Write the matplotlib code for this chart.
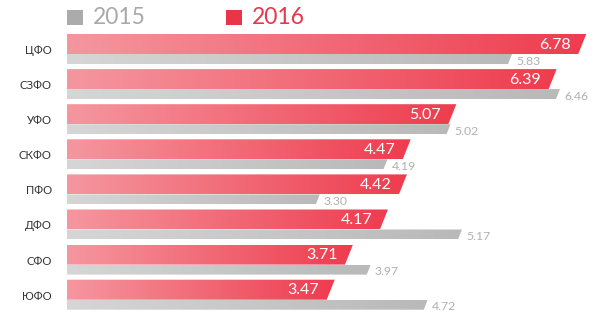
import numpy as np
import matplotlib
matplotlib.use("Agg")
import matplotlib.pyplot as plt
from matplotlib.patches import Polygon, Rectangle
from matplotlib.colors import to_rgb

plt.rcParams['font.family'] = ['Lato', 'DejaVu Sans']

# Federal districts and their values
districts = ["ЦФО", "СЗФО", "УФО", "СКФО", "ПФО", "ДФО", "СФО", "ЮФО"]
values_2016 = [6.78, 6.39, 5.07, 4.47, 4.42, 4.17, 3.71, 3.47]
values_2015 = [5.83, 6.46, 5.02, 4.19, 3.30, 5.17, 3.97, 4.72]
labels_2016 = ["6.78", "6.39", "5.07", "4.47", "4.42", "4.17", "3.71", "3.47"]
labels_2015 = ["5.83", "6.46", "5.02", "4.19", "3.30", "5.17", "3.97", "4.72"]
legend_years = ["2015", "2016"]

W, H, DPI = 600, 321, 100
fig = plt.figure(figsize=(W / DPI, H / DPI), dpi=DPI)
fig.patch.set_facecolor("white")

# axes: value 0 starts at x=67px, 76 px per unit; one row = 35.1 px
x0_px, px_per_unit, row_px, top_px = 67, 76.0, 35.1, 34.0
ax = fig.add_axes([x0_px / W, 0, 1 - x0_px / W, 1])
ax.set_xlim(0, (W - x0_px) / px_per_unit)
ax.set_ylim((H - top_px) / row_px, -top_px / row_px)
ax.axis("off")

red_h = 20 / row_px
gray_h = 10 / row_px
red_slant = 4 / px_per_unit     # half of horizontal offset of the slanted end
gray_slant = 2 / px_per_unit

red_left, red_right = to_rgb("#f5979f"), to_rgb("#ee3c4e")
gray_left, gray_right = to_rgb("#d6d6d6"), to_rgb("#b9b9b9")


def gradient_bar(y_top, y_bot, value, slant, c_left, c_right):
    xr = value + slant
    poly = Polygon([(0, y_top), (value + slant, y_top),
                    (value - slant, y_bot), (0, y_bot)],
                   closed=True, facecolor="none", edgecolor="none")
    ax.add_patch(poly)
    t = np.linspace(0, 1, 256)[None, :, None]
    grad = (1 - t) * np.array(c_left)[None, None, :] + t * np.array(c_right)[None, None, :]
    im = ax.imshow(grad, extent=(0, xr, y_bot, y_top), aspect="auto",
                   interpolation="bilinear", zorder=2)
    im.set_clip_path(poly)


for i, name in enumerate(districts):
    y_red_top = i
    y_red_bot = i + red_h
    y_gray_bot = y_red_bot + gray_h
    gradient_bar(y_red_top, y_red_bot, values_2016[i], red_slant, red_left, red_right)
    gradient_bar(y_red_bot, y_gray_bot, values_2015[i], gray_slant, gray_left, gray_right)

    ax.text(values_2016[i] - 0.15, (y_red_top + y_red_bot) / 2 + 0.02, labels_2016[i],
            ha="right", va="center", color="white", fontsize=11.5, zorder=3)
    ax.text(values_2015[i] + 0.08, (y_red_bot + y_gray_bot) / 2 + 0.06, labels_2015[i],
            ha="left", va="center", color="#b0b0b0", fontsize=8.8, zorder=3)
    ax.text(-0.2, (y_red_top + y_gray_bot) / 2 + 0.04, name, ha="right", va="center",
            color="#333333", fontsize=8.2, clip_on=False)

# legend
legend_colors = ["#ababab", "#ea3448"]
legend_text_colors = ["#a9a9a9", "#e8364a"]
legend_x = [67, 226]
for year, c, tc, lx in zip(legend_years, legend_colors, legend_text_colors, legend_x):
    fig.add_artist(Rectangle((lx / W, (H - 25) / H), 16 / W, 15 / H,
                             transform=fig.transFigure, facecolor=c, edgecolor="none"))
    fig.text((lx + 26) / W, (H - 17.5) / H, year, ha="left", va="center",
             color=tc, fontsize=16.5)

fig.savefig("out.png", dpi=DPI, facecolor="white")
